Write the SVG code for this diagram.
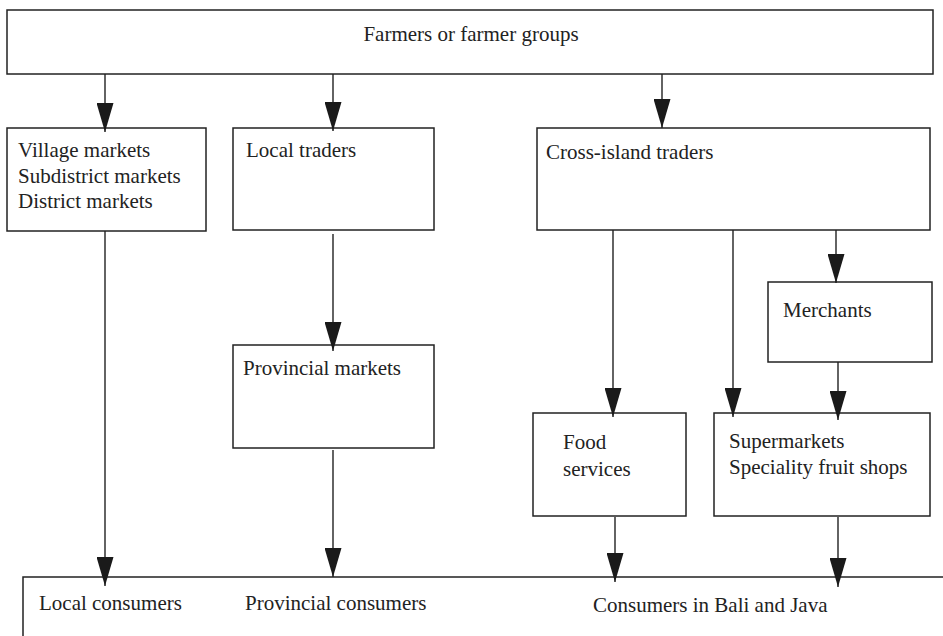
<svg xmlns="http://www.w3.org/2000/svg" width="943" height="636" viewBox="0 0 943 636">
<style>
.box{fill:#fff;stroke:#222;stroke-width:1.5}
.lbl{font-family:"Liberation Serif","Times New Roman",serif;font-size:21px;fill:#222}
.conn{stroke:#222;stroke-width:1.4;fill:none;marker-end:url(#ah)}
</style>
<defs>
<marker id="ah" markerUnits="userSpaceOnUse" viewBox="0 0 29 17" refX="29" refY="8.5" markerWidth="29" markerHeight="17" orient="auto">
<path d="M0,0 L29,8.5 L0,17 z" fill="#1a1a1a"/>
</marker>
</defs>
<rect width="943" height="636" fill="#fff"/>
<g id="farmers">
<rect class="box" x="7" y="10" width="926" height="64"/>
<text class="lbl" x="471" y="41" text-anchor="middle">Farmers or farmer groups</text>
</g>
<g id="village">
<rect class="box" x="7" y="128" width="199" height="103"/>
<text class="lbl" x="18" y="157">Village markets</text>
<text class="lbl" x="18" y="183">Subdistrict markets</text>
<text class="lbl" x="18" y="208">District markets</text>
</g>
<g id="local-traders">
<rect class="box" x="233" y="128" width="201" height="102"/>
<text class="lbl" x="246" y="157">Local traders</text>
</g>
<g id="cross-island">
<rect class="box" x="537" y="128" width="393" height="102"/>
<text class="lbl" x="546" y="159">Cross-island traders</text>
</g>
<g id="merchants">
<rect class="box" x="768" y="282" width="164" height="80"/>
<text class="lbl" x="783" y="317">Merchants</text>
</g>
<g id="provincial-markets">
<rect class="box" x="233" y="345" width="201" height="103"/>
<text class="lbl" x="243" y="375">Provincial markets</text>
</g>
<g id="food-services">
<rect class="box" x="533" y="413" width="153" height="103"/>
<text class="lbl" x="563" y="449">Food</text>
<text class="lbl" x="563" y="476">services</text>
</g>
<g id="supermarkets">
<rect class="box" x="714" y="413" width="216" height="103"/>
<text class="lbl" x="729" y="448">Supermarkets</text>
<text class="lbl" x="729" y="474">Speciality fruit shops</text>
</g>
<g id="consumers">
<rect class="box" x="23" y="577" width="940" height="80"/>
<text class="lbl" x="39" y="610">Local consumers</text>
<text class="lbl" x="245" y="610">Provincial consumers</text>
<text class="lbl" x="593" y="612">Consumers in Bali and Java</text>
</g>
<g id="connectors">
<line class="conn" x1="105" y1="74" x2="105" y2="132"/>
<line class="conn" x1="333" y1="74" x2="333" y2="131"/>
<line class="conn" x1="662" y1="74" x2="662" y2="128"/>
<line class="conn" x1="333" y1="234" x2="333" y2="351"/>
<line class="conn" x1="613" y1="230" x2="613" y2="417"/>
<line class="conn" x1="733" y1="230" x2="733" y2="417"/>
<line class="conn" x1="836" y1="230" x2="836" y2="283"/>
<line class="conn" x1="838" y1="362" x2="838" y2="420"/>
<line class="conn" x1="105" y1="231" x2="105" y2="586"/>
<line class="conn" x1="333" y1="450" x2="333" y2="577"/>
<line class="conn" x1="615" y1="517" x2="615" y2="582"/>
<line class="conn" x1="838" y1="517" x2="838" y2="587"/>
</g>
</svg>
